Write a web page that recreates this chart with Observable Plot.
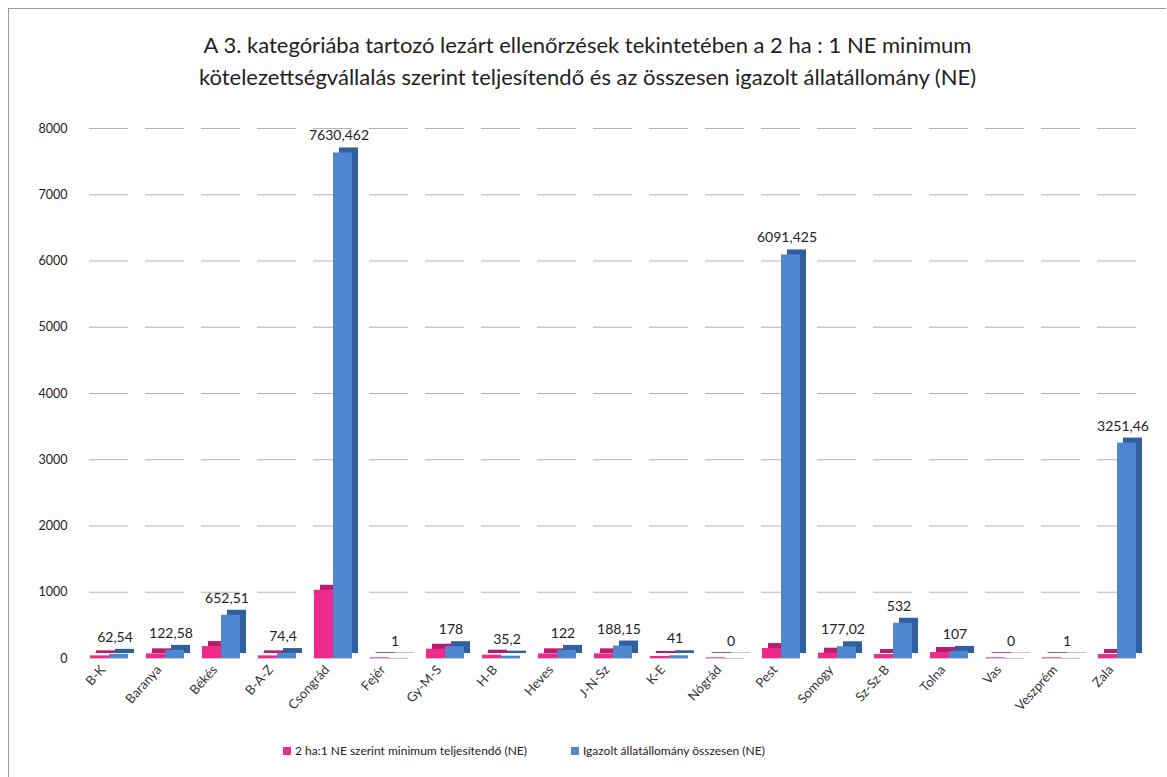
<!DOCTYPE html>
<html>
<head>
<meta charset="utf-8">
<script src="https://cdn.jsdelivr.net/npm/d3@7"></script>
<script src="https://cdn.jsdelivr.net/npm/@observablehq/plot@0.6"></script>
<style>
  html, body { margin: 0; padding: 0; background: #fff; }
  #chart {
    position: absolute; left: 8px; top: 8px; width: 1157px; height: 775px;
    border: 1px solid #9a9a9a; border-right: none; border-bottom: none;
    font-family: Lato, "Open Sans", sans-serif; background: #fff;
  }
  #title {
    text-align: center; font-size: 22px; line-height: 32px; color: #222;
    padding-top: 20px; height: 72px; font-family: Lato, "Open Sans", sans-serif;
  }
  #plot { height: 620px; }
  #legend {
    position: absolute; left: 274px; top: 734px;
    display: flex; gap: 44px; font-size: 12px; color: #222;
    font-family: Lato, "Open Sans", sans-serif;
  }
  #legend span.sw { display: inline-block; width: 8px; height: 8px; margin-right: 4px; vertical-align: 0px; }
</style>
</head>
<body>
<div id="chart">
  <div id="title">A 3. kategóriába tartozó lezárt ellenőrzések tekintetében a 2 ha : 1 NE minimum<br>kötelezettségvállalás szerint teljesítendő és az összesen igazolt állatállomány (NE)</div>
  <div id="plot"></div>
  <div id="legend"></div>
</div>
<script>
const categories = ["B-K","Baranya","Békés","B-A-Z","Csongrád","Fejér","Gy-M-S","H-B","Heves","J-N-Sz","K-E","Nógrád","Pest","Somogy","Sz-Sz-B","Tolna","Vas","Veszprém","Zala"];
const seriesNames = ["2 ha:1 NE szerint minimum teljesítendő (NE)", "Igazolt állatállomány összesen (NE)"];
const minimumValues = [40, 70, 180, 40, 1030, 10, 140, 50, 70, 70, 30, 10, 150, 80, 60, 90, 10, 10, 60];
const igazoltValues = [62.54, 122.58, 652.51, 74.4, 7630.462, 1, 178, 35.2, 122, 188.15, 41, 0, 6091.425, 177.02, 532, 107, 0, 1, 3251.46];
const yTicks = [0, 1000, 2000, 3000, 4000, 5000, 6000, 7000, 8000];
const colors = ["#ee2a8d", "#4f86d0"];
const sideColors = ["#b81d69", "#30609f"];

const rows = [];
categories.forEach((c, i) => {
  rows.push({cat: c, series: seriesNames[0], value: minimumValues[i], idx: 0});
  rows.push({cat: c, series: seriesNames[1], value: igazoltValues[i], idx: 1});
});
const labels = categories.map((c, i) => ({cat: c, series: seriesNames[1], value: igazoltValues[i], text: String(igazoltValues[i]).replace(".", ",")}));

const plot = Plot.plot({
  width: 1157,
  height: 620,
  marginTop: 27,
  marginBottom: 63,
  marginLeft: 76,
  marginRight: 26,
  style: {fontFamily: "Lato, 'Open Sans', sans-serif", background: "transparent"},
  fx: {domain: categories, padding: 0.3, label: null, axis: null},
  x: {domain: seriesNames, padding: 0, axis: null},
  y: {domain: [0, 8000], label: null, axis: null},
  color: {domain: seriesNames, range: colors},
  marks: [
    Plot.ruleY(yTicks.slice(1), {stroke: "#b5b5b5", strokeWidth: 1.2}),
    Plot.ruleY([0], {stroke: "#c8c8c8", strokeWidth: 1, dy: -6, dx: 6}),
    Plot.ruleY([0], {stroke: "#c8c8c8", strokeWidth: 1}),
    Plot.barY(rows, {fx: "cat", x: "series", y: "value", fill: d => sideColors[d.idx], dx: 6, dy: -5}),
    Plot.barY(rows, {fx: "cat", x: "series", y: "value", fill: "series"}),
    Plot.text(labels, {fx: "cat", x: "series", y: "value", text: "text", dy: -17, dx: -4, fontSize: 14, fill: "#222"}),
    Plot.axisY({ticks: yTicks, tickSize: 0, tickPadding: 22, fontSize: 12.5, tickFormat: d => String(d), label: null, fill: "#222", anchor: "left"}),
    Plot.axisFx({anchor: "bottom", tickRotate: -48, tickSize: 0, tickPadding: 9, dx: -6, fontSize: 13, label: null, fill: "#333"})
  ]
});
document.getElementById("plot").appendChild(plot);

const legend = document.getElementById("legend");
seriesNames.forEach((s, i) => {
  const item = document.createElement("div");
  item.innerHTML = `<span class="sw" style="background:${colors[i]}"></span>${s}`;
  legend.appendChild(item);
});
</script>
</body>
</html>
